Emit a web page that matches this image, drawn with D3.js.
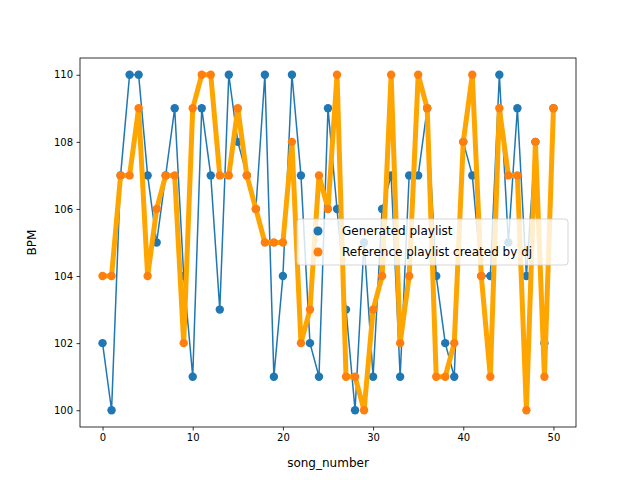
<!DOCTYPE html>
<html>
<head>
<meta charset="UTF-8">
<script src="https://d3js.org/d3.v7.min.js"></script>
<style>body{margin:0;background:#fff}text{font-family:"DejaVu Sans",sans-serif}</style>
</head>
<body>
<script>
// Data
var generated = [102,100,107,110,110,107,105,107,109,104,101,109,107,103,110,108,107,106,110,101,
                 104,110,107,102,101,109,106,103,100,105,101,106,107,101,107,107,109,104,102,101,
                 108,107,104,104,110,105,109,104,108,102,109];
var reference = [104,104,107,107,109,104,106,107,107,102,109,110,110,107,107,109,107,106,105,105,
                 105,108,102,103,107,106,110,101,101,100,103,104,110,102,104,110,109,101,101,102,
                 108,110,104,101,109,107,107,100,108,101,109];
var seriesNames = ["Generated playlist", "Reference playlist created by dj"];
var xTicks = [0,10,20,30,40,50];
var yTicks = [100,102,104,106,108,110];

var W = 640, H = 480, L = 80, R = 576, T = 58, B = 427;
var svg = d3.select("body").append("svg").attr("width", W).attr("height", H);

var x = d3.scaleLinear().domain([-2.5, 52.5]).range([L, R]);
var y = d3.scaleLinear().domain([99.5, 110.5]).range([B, T]);

var gx = svg.append("g").attr("transform", "translate(0," + B + ")")
  .call(d3.axisBottom(x).tickValues(xTicks).tickSize(3.5).tickPadding(3.5));
var gy = svg.append("g").attr("transform", "translate(" + L + ",0)")
  .call(d3.axisLeft(y).tickValues(yTicks).tickSize(3.5).tickPadding(3.5));
[gx, gy].forEach(function (g) {
  g.select(".domain").remove();
  g.selectAll("text").attr("font-size", 10).attr("fill", "#000").style("font-family", "DejaVu Sans");
  g.selectAll("line").attr("stroke", "#000").attr("stroke-width", 0.8);
});

var idx = d3.range(generated.length);
var line = function (arr) {
  return d3.line().x(function (i) { return x(i); }).y(function (i) { return y(arr[i]); })(idx);
};

// Generated
svg.append("path").attr("d", line(generated)).attr("fill", "none").attr("stroke", "#1f77b4").attr("stroke-width", 1.5);
svg.append("g").selectAll("circle").data(idx).enter().append("circle")
  .attr("cx", function (i) { return x(i); }).attr("cy", function (i) { return y(generated[i]); })
  .attr("r", 4.2).attr("fill", "#1f77b4");

// Reference
svg.append("path").attr("d", line(reference)).attr("fill", "none").attr("stroke", "orange")
  .attr("stroke-width", 5).attr("stroke-linejoin", "round");
svg.append("g").selectAll("circle").data(idx).enter().append("circle")
  .attr("cx", function (i) { return x(i); }).attr("cy", function (i) { return y(reference[i]); })
  .attr("r", 4.2).attr("fill", "#ff7f0e");

// Frame
svg.append("rect").attr("x", L).attr("y", T).attr("width", R - L).attr("height", B - T)
  .attr("fill", "none").attr("stroke", "#000").attr("stroke-width", 0.8);

// Axis labels
svg.append("text").attr("x", (L + R) / 2).attr("y", 467).attr("text-anchor", "middle").attr("font-size", 12).text("song_number");
svg.append("text").attr("transform", "translate(36," + (T + B) / 2 + ") rotate(-90)")
  .attr("text-anchor", "middle").attr("font-size", 12).text("BPM");

// Legend
var lg = svg.append("g").attr("transform", "translate(297,219)");
lg.append("rect").attr("width", 271).attr("height", 46).attr("rx", 3)
  .attr("fill", "#fff").attr("fill-opacity", 0.8).attr("stroke", "#ccc").attr("stroke-width", 0.8);
var colors = ["#1f77b4", "#ff7f0e"];
seriesNames.forEach(function (n, k) {
  lg.append("circle").attr("cx", 21).attr("cy", 12 + k * 21).attr("r", 4.5).attr("fill", colors[k]);
  lg.append("text").attr("x", 45).attr("y", 16 + k * 21).attr("font-size", 12).text(n);
});
</script>
</body>
</html>
